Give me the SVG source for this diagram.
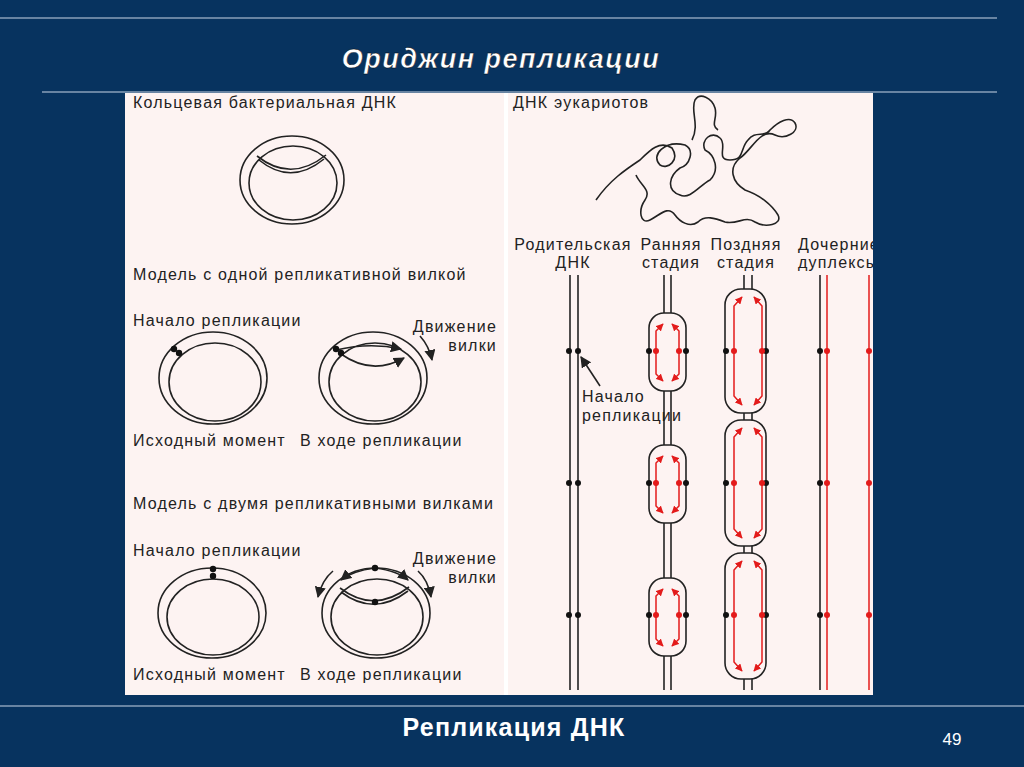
<svg xmlns="http://www.w3.org/2000/svg" width="1024" height="767" viewBox="0 0 1024 767">
<style>
.t{font-family:"Liberation Sans",Arial,sans-serif;font-size:16px;letter-spacing:1.2px;fill:#222}
.k{fill:none;stroke:#222;stroke-width:1.6}
.r{fill:none;stroke:#e31b1b;stroke-width:1.5}
.bb{fill:#fdf3f2;stroke:#222;stroke-width:1.6}
.d{fill:#111}.rd{fill:#e31b1b}
</style>
<defs>
<marker id="ah" viewBox="0 0 10 10" refX="9" refY="5" markerWidth="7" markerHeight="7" orient="auto"><path d="M0,0L10,5L0,10z" fill="#222"/></marker>
<marker id="ar" viewBox="0 0 10 10" refX="9" refY="5" markerWidth="5" markerHeight="5" orient="auto-start-reverse"><path d="M0,0L10,5L0,10z" fill="#e31b1b"/></marker>
</defs>
<rect width="1024" height="767" fill="#07335f"/>
<line x1="0" y1="18" x2="997" y2="18" stroke="#8aa0b8" stroke-width="1.5"/>
<line x1="42" y1="92" x2="997" y2="92" stroke="#8aa0b8" stroke-width="1.5"/>
<line x1="0" y1="706" x2="1024" y2="706" stroke="#8aa0b8" stroke-width="1.5"/>
<text x="501" y="68" text-anchor="middle" font-family="Liberation Sans,Arial,sans-serif" font-size="27" letter-spacing="1.5" font-weight="bold" font-style="italic" fill="#fff" stroke="#000" stroke-width="0.4">Ориджин репликации</text>
<text x="514" y="736" text-anchor="middle" font-family="Liberation Sans,Arial,sans-serif" font-size="25" letter-spacing="1.2" font-weight="bold" fill="#fff">Репликация ДНК</text>
<text x="952" y="745" text-anchor="middle" font-family="Liberation Sans,Arial,sans-serif" font-size="17" fill="#fff">49</text>
<rect x="125" y="93" width="748" height="602" fill="#fdf3f2"/>
<rect x="504" y="93" width="4" height="602" fill="#fff"/>

<g id="left">
<text class="t" x="133" y="108">Кольцевая бактериальная ДНК</text>
<ellipse class="k" cx="292" cy="180" rx="52" ry="44"/><ellipse class="k" cx="293" cy="183" rx="44" ry="37"/>
<path class="k" d="M257,156Q291,183 326,155M259,160Q291,186 324,159"/>
<text class="t" x="133" y="280">Модель с одной репликативной вилкой</text>
<text class="t" x="133" y="326">Начало репликации</text>
<ellipse class="k" cx="213" cy="378" rx="54" ry="46"/><ellipse class="k" cx="215" cy="382" rx="46" ry="39"/>
<circle class="d" cx="174" cy="349" r="3.2"/><circle class="d" cx="179" cy="353" r="3.2"/>
<text class="t" x="133" y="446">Исходный момент</text>
<ellipse class="k" cx="373" cy="378" rx="54" ry="46"/><ellipse class="k" cx="375" cy="382" rx="46" ry="39"/>
<path class="k" d="M341,354Q372,376 404,358" marker-end="url(#ah)"/><path class="k" d="M336,350Q370,342 401,349" marker-end="url(#ah)"/>
<circle class="d" cx="336" cy="349" r="3.2"/><circle class="d" cx="341" cy="353" r="3.2"/>
<path class="k" d="M420,336Q429,346 432,360" marker-end="url(#ah)"/>
<text class="t" x="497" y="332" text-anchor="end">Движение</text><text class="t" x="497" y="351" text-anchor="end">вилки</text>
<text class="t" x="300" y="446">В ходе репликации</text>
<text class="t" x="133" y="509">Модель с двумя репликативными вилками</text>
<text class="t" x="133" y="556">Начало репликации</text>
<ellipse class="k" cx="212" cy="613" rx="54" ry="45"/><ellipse class="k" cx="213" cy="617" rx="46" ry="38"/>
<circle class="d" cx="213" cy="569" r="3.2"/><circle class="d" cx="213" cy="576" r="3.2"/>
<text class="t" x="133" y="680">Исходный момент</text>
<ellipse class="k" cx="376" cy="613" rx="54" ry="45"/><ellipse class="k" cx="377" cy="617" rx="46" ry="38"/>
<path class="k" d="M340,588Q374,614 409,587M341,592Q374,617 408,591"/>
<path class="k" d="M375,568Q352,571 341,580" marker-end="url(#ah)"/><path class="k" d="M375,568Q398,571 408,580" marker-end="url(#ah)"/>
<circle class="d" cx="375" cy="568" r="3.2"/><circle class="d" cx="375" cy="602" r="3.2"/>
<path class="k" d="M333,571Q322,580 318,597" marker-end="url(#ah)"/><path class="k" d="M418,571Q428,580 431,597" marker-end="url(#ah)"/>
<text class="t" x="497" y="564" text-anchor="end">Движение</text><text class="t" x="497" y="583" text-anchor="end">вилки</text>
<text class="t" x="300" y="680">В ходе репликации</text>
</g>

<g id="right">
<text class="t" x="513" y="108">ДНК эукариотов</text>
<path class="k" stroke-width="1.3" d="M596,200C610,180 625,170 640,160C650,150 660,140 672,148C680,160 668,170 660,165C650,155 665,140 685,145C695,150 690,165 680,168C670,175 665,190 680,195C690,200 700,185 710,180C720,170 715,155 705,150C700,140 712,130 720,138C728,145 715,160 730,160C745,160 740,148 748,140C755,130 765,138 770,130C778,122 790,115 795,123C800,132 785,140 775,135C760,128 752,150 740,158C728,168 732,182 745,190C760,195 772,205 778,215C783,225 765,228 755,222C745,215 738,225 725,222C715,218 705,215 698,222C690,228 680,222 675,215C668,205 660,215 650,220C640,225 638,210 645,200C652,190 640,185 636,175M692,140C700,125 690,110 695,100C700,92 712,98 715,108C718,118 710,125 718,130"/>
<text class="t" x="573" y="250" text-anchor="middle">Родительская</text><text class="t" x="573" y="268" text-anchor="middle">ДНК</text>
<text class="t" x="671" y="250" text-anchor="middle">Ранняя</text><text class="t" x="671" y="268" text-anchor="middle">стадия</text>
<text class="t" x="746" y="250" text-anchor="middle">Поздняя</text><text class="t" x="746" y="268" text-anchor="middle">стадия</text>
<text class="t" x="798" y="250">Дочерние</text><text class="t" x="798" y="268">дуплексы</text>
<rect x="873" y="230" width="30" height="45" fill="#07335f"/>

<g id="parent">
<line class="k" x1="570" y1="275" x2="570" y2="690"/><line class="k" x1="578" y1="275" x2="578" y2="690"/>
<g class="d"><circle cx="569" cy="351" r="3"/><circle cx="578" cy="351" r="3"/><circle cx="569" cy="483" r="3"/><circle cx="578" cy="483" r="3"/><circle cx="569" cy="615" r="3"/><circle cx="578" cy="615" r="3"/></g>
<line class="k" x1="600" y1="386" x2="581" y2="357" marker-end="url(#ah)"/>
<text class="t" x="582" y="402">Начало</text><text class="t" x="582" y="421">репликации</text>
</g>

<g id="early">
<line class="k" x1="664" y1="275" x2="664" y2="690"/><line class="k" x1="671" y1="275" x2="671" y2="690"/>
<rect class="bb" x="649" y="313" width="37" height="78" rx="15"/>
<rect class="bb" x="649" y="445" width="37" height="78" rx="15"/>
<rect class="bb" x="649" y="578" width="37" height="78" rx="15"/>
<g class="r">
<path d="M663,324L656,331L656,374L663,381" marker-start="url(#ar)" marker-end="url(#ar)"/><path d="M672,324L679,331L679,374L672,381" marker-start="url(#ar)" marker-end="url(#ar)"/>
<path d="M663,456L656,463L656,506L663,513" marker-start="url(#ar)" marker-end="url(#ar)"/><path d="M672,456L679,463L679,506L672,513" marker-start="url(#ar)" marker-end="url(#ar)"/>
<path d="M663,589L656,596L656,639L663,646" marker-start="url(#ar)" marker-end="url(#ar)"/><path d="M672,589L679,596L679,639L672,646" marker-start="url(#ar)" marker-end="url(#ar)"/>
</g>
<g class="d"><circle cx="649" cy="351" r="3"/><circle cx="686" cy="351" r="3"/><circle cx="649" cy="483" r="3"/><circle cx="686" cy="483" r="3"/><circle cx="649" cy="615" r="3"/><circle cx="686" cy="615" r="3"/></g>
<g class="rd"><circle cx="656" cy="351" r="3"/><circle cx="679" cy="351" r="3"/><circle cx="656" cy="483" r="3"/><circle cx="679" cy="483" r="3"/><circle cx="656" cy="615" r="3"/><circle cx="679" cy="615" r="3"/></g>
</g>

<g id="late">
<line class="k" x1="744" y1="275" x2="744" y2="690"/><line class="k" x1="752" y1="275" x2="752" y2="690"/>
<rect class="bb" x="725" y="289" width="41" height="124" rx="16"/>
<rect class="bb" x="725" y="420" width="41" height="126" rx="16"/>
<rect class="bb" x="725" y="553" width="41" height="126" rx="16"/>
<g class="r">
<path d="M742,297L734,306L734,396L742,405" marker-start="url(#ar)" marker-end="url(#ar)"/><path d="M754,297L762,306L762,396L754,405" marker-start="url(#ar)" marker-end="url(#ar)"/>
<path d="M742,428L734,437L734,529L742,538" marker-start="url(#ar)" marker-end="url(#ar)"/><path d="M754,428L762,437L762,529L754,538" marker-start="url(#ar)" marker-end="url(#ar)"/>
<path d="M742,561L734,570L734,662L742,671" marker-start="url(#ar)" marker-end="url(#ar)"/><path d="M754,561L762,570L762,662L754,671" marker-start="url(#ar)" marker-end="url(#ar)"/>
</g>
<g class="d"><circle cx="726" cy="351" r="3"/><circle cx="766" cy="351" r="3"/><circle cx="726" cy="483" r="3"/><circle cx="766" cy="483" r="3"/><circle cx="726" cy="615" r="3"/><circle cx="766" cy="615" r="3"/></g>
<g class="rd"><circle cx="734" cy="351" r="3"/><circle cx="762" cy="351" r="3"/><circle cx="734" cy="483" r="3"/><circle cx="762" cy="483" r="3"/><circle cx="734" cy="615" r="3"/><circle cx="762" cy="615" r="3"/></g>
</g>

<g id="daughter">
<line class="k" x1="820" y1="275" x2="820" y2="690"/><line class="r" x1="827" y1="275" x2="827" y2="690"/><line class="r" x1="869" y1="275" x2="869" y2="690"/>
<g class="d"><circle cx="820" cy="351" r="3"/><circle cx="820" cy="483" r="3"/><circle cx="820" cy="615" r="3"/></g>
<g class="rd"><circle cx="827" cy="351" r="3"/><circle cx="827" cy="483" r="3"/><circle cx="827" cy="615" r="3"/><circle cx="869" cy="351" r="3"/><circle cx="869" cy="483" r="3"/><circle cx="869" cy="615" r="3"/></g>
</g>
</g>
</svg>
